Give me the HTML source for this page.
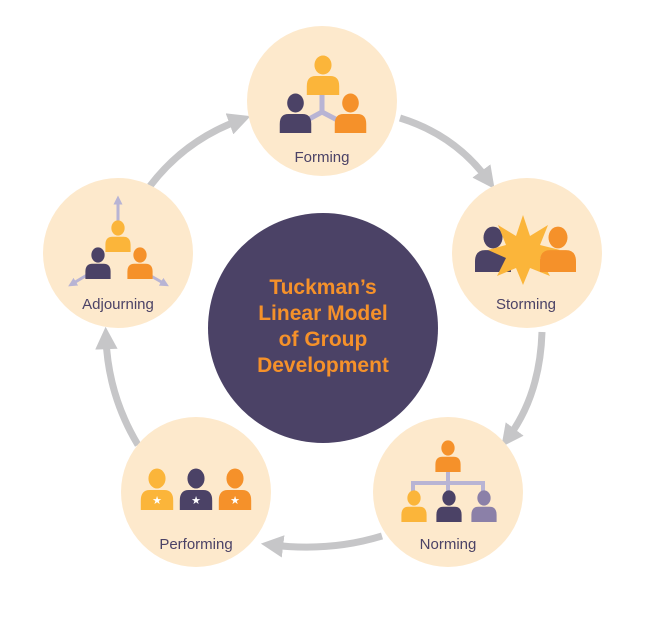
<!DOCTYPE html>
<html><head><meta charset="utf-8"><style>
html,body{margin:0;padding:0;background:#fff;width:646px;height:620px;overflow:hidden}
svg{display:block}
text{font-family:"Liberation Sans",sans-serif}
</style></head><body>
<svg width="646" height="620" viewBox="0 0 646 620">
<defs>
<symbol id="p" viewBox="0 0 40 40" preserveAspectRatio="none">
<circle cx="20" cy="10" r="9.5"/>
<path d="M2,40 L2,31 Q2,21 12,21 L28,21 Q38,21 38,31 L38,40 Z"/>
</symbol>
<marker id="ah" viewBox="0 0 10 10" refX="5" refY="5" markerWidth="3.2" markerHeight="3.2" orient="auto">
<path d="M0,0 L10,5 L0,10 Z" fill="#c6c6c8"/>
</marker>
<marker id="la" viewBox="0 0 10 10" refX="5" refY="5" markerWidth="3" markerHeight="3" orient="auto">
<path d="M0,0 L10,5 L0,10 Z" fill="#b8b4d4"/>
</marker>
</defs>
<g fill="none" stroke="#c6c6c8" stroke-width="7" marker-end="url(#ah)">
<path d="M400,118 Q455,135 488,180"/>
<path d="M542,332 Q540,395 508,438"/>
<path d="M382,536 Q330,552 272,545"/>
<path d="M138,445 Q108,395 106,338"/>
<path d="M150,186 Q185,140 240,120"/>
</g>
<circle cx="323" cy="328" r="115" fill="#4b4266"/>
<g fill="#f5912a" font-weight="bold" font-size="21" text-anchor="middle">
<text x="323" y="294">Tuckman’s</text>
<text x="323" y="320">Linear Model</text>
<text x="323" y="346">of Group</text>
<text x="323" y="372">Development</text>
</g>
<g fill="#fde9cc">
<circle cx="322" cy="101" r="75"/>
<circle cx="527" cy="253" r="75"/>
<circle cx="448" cy="492" r="75"/>
<circle cx="196" cy="492" r="75"/>
<circle cx="118" cy="253" r="75"/>
</g>
<!-- Forming -->
<g stroke="#b8b4d4" stroke-width="5" fill="none"><path d="M322,92 L322,112 L300,124 M322,112 L345,124"/></g>
<use href="#p" x="305" y="55" width="36" height="40" fill="#fbb53a"/>
<use href="#p" x="278" y="93" width="35" height="40" fill="#4b4266"/>
<use href="#p" x="333" y="93" width="35" height="40" fill="#f5912a"/>
<!-- Storming -->
<use href="#p" x="473" y="226" width="40" height="46" fill="#4b4266"/>
<polygon fill="#fbb53a" points="523,215 530,236 548,225 540,245 560,250 540,258 550,276 530,268 523,285 516,268 497,276 506,258 488,250 506,245 498,225 516,236"/>
<use href="#p" x="538" y="226" width="40" height="46" fill="#f5912a"/>
<!-- Norming -->
<g stroke="#b8b4d4" stroke-width="4" fill="none"><path d="M448,465 L448,483 M413,495 L413,483 L483,483 L483,495 M448,483 L448,495"/></g>
<use href="#p" x="434" y="440" width="28" height="32" fill="#f5912a"/>
<use href="#p" x="400" y="490" width="28" height="32" fill="#fbb53a"/>
<use href="#p" x="435" y="490" width="28" height="32" fill="#4b4266"/>
<use href="#p" x="470" y="490" width="28" height="32" fill="#8b80a8"/>
<!-- Performing -->
<use href="#p" x="139" y="468" width="36" height="42" fill="#fbb53a"/>
<use href="#p" x="178" y="468" width="36" height="42" fill="#4b4266"/>
<use href="#p" x="217" y="468" width="36" height="42" fill="#f5912a"/>
<g fill="#fff" font-size="11" text-anchor="middle"><text x="157" y="504">★</text><text x="196" y="504">★</text><text x="235" y="504">★</text></g>
<!-- Adjourning -->
<g stroke="#b8b4d4" stroke-width="3" fill="none">
<path d="M118,222 L118,200" marker-end="url(#la)"/>
<path d="M92,272 L72,284" marker-end="url(#la)"/>
<path d="M144,272 L165,284" marker-end="url(#la)"/>
</g>
<use href="#p" x="104" y="220" width="28" height="32" fill="#fbb53a"/>
<use href="#p" x="84" y="247" width="28" height="32" fill="#4b4266"/>
<use href="#p" x="126" y="247" width="28" height="32" fill="#f5912a"/>
<g fill="#4b4266" font-size="15" text-anchor="middle">
<text x="322" y="162">Forming</text>
<text x="526" y="309">Storming</text>
<text x="448" y="549">Norming</text>
<text x="196" y="549">Performing</text>
<text x="118" y="309">Adjourning</text>
</g>
</svg>
</body></html>
